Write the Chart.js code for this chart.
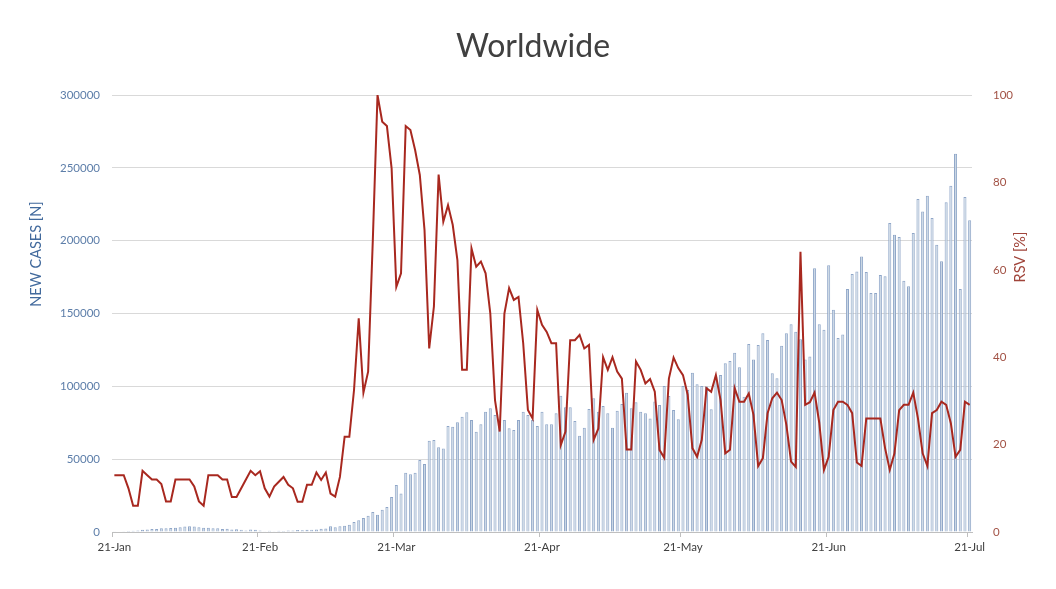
<!DOCTYPE html>
<html>
<head>
<meta charset="utf-8">
<script src="https://cdn.jsdelivr.net/npm/chart.js@4.4.0/dist/chart.umd.min.js"></script>
<style>
    html, body { margin: 0; padding: 0; background: #ffffff; }
    #wrap { width: 1056px; height: 589px; }
</style>
</head>
<body>
<div id="wrap"><canvas id="worldChart" width="1056" height="589"></canvas></div>
<script>
const startDay = "2020-01-21";
const monthTicks = ["21-Jan", "21-Feb", "21-Mar", "21-Apr", "21-May", "21-Jun", "21-Jul"];

// daily new cases, 21-Jan .. 21-Jul
const newCases = [
    150, 300, 500, 700, 800, 1000, 1500, 1800, 2000, 2100, 2500, 2600, 2800, 3000, 3200, 3700,
    3900, 3700, 3200, 3000, 2900, 2600, 2500, 2100, 2300, 1800, 1900, 1600, 1100, 1800, 1500,
    1000, 600, 900, 500, 800, 700, 1000, 1100, 1300, 1200, 1500, 1600, 1800, 2200, 2400,
    3900, 3200, 3900, 4300, 5000, 6900, 8000, 9600, 11200, 13700, 11900, 15300, 17200, 24000, 32300,
    26500, 40700, 39600, 40700, 49400, 46700, 62700, 63200, 58100, 57400, 72800, 72300, 75300, 79200, 82200,
    76900, 68900, 73900, 82600, 84900, 80300, 75700, 76900, 71200, 70000, 76900, 82600, 80300, 76900, 72800,
    82600, 73900, 73900, 81500, 93600, 85600, 85600, 76200, 66100, 71600, 84400, 91800, 82600, 86500, 81500,
    71600, 83300, 87900, 95600, 85000, 89000, 82600, 81500, 78000, 89600, 87200, 100200, 93400, 83800, 77400,
    100200, 97500, 109400, 101400, 100200, 99800, 84200, 106600, 107800, 115800, 117400, 123100, 113100, 92900, 129100,
    118500, 128400, 136400, 131800, 108900, 105500, 127900, 136400, 142600, 137500, 132300, 118500, 120400, 181000, 142600,
    138900, 183100, 152600, 133200, 135500, 166800, 177100, 178900, 189200, 178500, 164100, 164100, 176400, 175500, 212100, 204100,
    202500, 172500, 168700, 205300, 228600, 220100, 230900, 215600, 197200, 185800, 226300, 237700, 259700, 166800, 230000, 214000
];

// relative search volume, %
const rsv = [
    13, 13, 13, 10, 6, 6, 14, 13, 12, 12, 11, 7, 7, 12, 12, 12, 12, 10.4, 7, 6, 13, 13, 13, 12, 12, 8, 8, 10, 12, 14, 13,
    13.9, 10, 8.1, 10.4, 11.5, 12.6, 10.8, 10, 6.9, 6.9, 10.8, 10.8, 13.6, 11.9, 13.6, 8.8, 8.1, 12.6, 21.8, 21.8,
    32.5, 48.9, 31.9, 36.7, 66.8, 100, 93.9, 92.9, 83.2, 56.1,
    59.2, 92.9, 92, 87.4, 81.7, 69.1, 42, 51.6, 81.8, 71, 74.8, 70.3, 62.2, 37.1, 37.1, 64.9, 60.7, 61.9, 59.2, 50,
    30.2, 23, 50, 55.8, 53.1, 53.8, 43.2, 27.9, 26, 50.8, 47.4, 45.8, 43.2, 43.2, 19.9, 23, 43.9, 43.9, 45.1,
    42, 42.8, 21.1, 23.7, 40, 37.1, 40, 36.7, 35.1, 18.9, 18.9, 39, 37.1, 34, 35, 32.1, 18.8, 17, 35.1, 39.9, 37.5,
    35.9, 31.4, 19.2, 17.2, 21.1, 32.9, 32.1, 35.9, 30.2, 18, 18.8, 32.9, 29.8, 29.8, 31.7, 26.8, 15.1, 16.9, 27.2, 30.6,
    31.9, 30.2, 24.5, 16.1, 14.9, 64.1, 29.1, 29.7, 31.9, 25,
    14.2, 17.2, 27.9, 29.8, 29.8, 29.1, 27.2, 15.9, 15.1, 26, 26, 26, 26, 19.2, 14.2, 18, 27.9, 29.1, 29.1, 31.9,
    26, 18, 15.1, 27.2, 27.9, 29.8, 29.1, 24.9, 17.2, 18.8, 29.8, 29.1
];

const monthNames = ["Jan", "Feb", "Mar", "Apr", "May", "Jun", "Jul", "Aug", "Sep", "Oct", "Nov", "Dec"];
const days = [];
const firstDay = new Date(startDay + "T00:00:00Z");
for (let i = 0; i < newCases.length; i++) {
    const d = new Date(firstDay.getTime() + i * 86400000);
    days.push(d.getUTCDate() + "-" + monthNames[d.getUTCMonth()]);
}

const fontFamily = "Lato, 'Open Sans', sans-serif";

// chart title and vertical axis titles (both read bottom to top)
const chartTexts = {
    id: "chartTexts",
    afterDraw(chart) {
        const ctx = chart.ctx;
        ctx.save();
        ctx.textAlign = "center";
        ctx.textBaseline = "middle";
        ctx.fillStyle = "#404040";
        ctx.font = "32px " + fontFamily;
        ctx.fillText("Worldwide", 533, 47);
        ctx.font = "14.5px " + fontFamily;
        [["NEW CASES [N]", 36, 254, "#41699c"], ["RSV [%]", 1020, 257, "#a0443a"]].forEach(function(t) {
            ctx.save();
            ctx.translate(t[1], t[2]);
            ctx.rotate(-Math.PI / 2);
            ctx.fillStyle = t[3];
            ctx.fillText(t[0], 0, 0);
            ctx.restore();
        });
        ctx.restore();
    }
};

new Chart(document.getElementById("worldChart"), {
    type: "bar",
    data: {
        labels: days,
        datasets: [
            {
                type: "line",
                label: "RSV",
                data: rsv,
                yAxisID: "y1",
                borderColor: "#a8281f",
                borderWidth: 2,
                pointRadius: 0,
                tension: 0,
                order: 1
            },
            {
                label: "New cases",
                data: newCases,
                yAxisID: "y",
                backgroundColor: "#c9d6e4",
                borderColor: "#8fa6c8",
                borderWidth: 1,
                barPercentage: 0.65,
                categoryPercentage: 1,
                order: 2
            }
        ]
    },
    options: {
        responsive: false,
        animation: false,
        layout: { padding: { top: 95 } },
        plugins: {
            legend: { display: false },
            tooltip: { enabled: false },
            title: { display: false }
        },
        scales: {
            x: {
                offset: true,
                grid: {
                    display: true,
                    offset: true,
                    drawOnChartArea: false,
                    drawTicks: true,
                    tickLength: 5,
                    color: ctx => monthTicks.includes(days[ctx.index]) ? "#bfbfbf" : "rgba(0,0,0,0)"
                },
                border: { display: true, color: "#bfbfbf" },
                ticks: {
                    autoSkip: false,
                    maxRotation: 0,
                    padding: 3,
                    color: "#404040",
                    font: { family: fontFamily, size: 11.5 },
                    callback: (v, i) => monthTicks.includes(days[i]) ? days[i] : ""
                },
                afterFit(scale) { scale.height = 57; }
            },
            y: {
                position: "left",
                min: 0,
                max: 300000,
                grid: { color: "#d9d9d9", drawTicks: false },
                border: { display: false },
                ticks: {
                    stepSize: 50000,
                    padding: 12,
                    color: "#5d7ea9",
                    font: { family: fontFamily, size: 11.5 },
                    callback: v => String(v)
                },
                afterFit(scale) { scale.width = 112; }
            },
            y1: {
                position: "right",
                min: 0,
                max: 100,
                grid: { display: false },
                border: { display: false },
                ticks: {
                    stepSize: 20,
                    padding: 13,
                    color: "#a25245",
                    font: { family: fontFamily, size: 11.5 }
                },
                afterFit(scale) { scale.width = 84; }
            }
        }
    },
    plugins: [chartTexts]
});
</script>
</body>
</html>
